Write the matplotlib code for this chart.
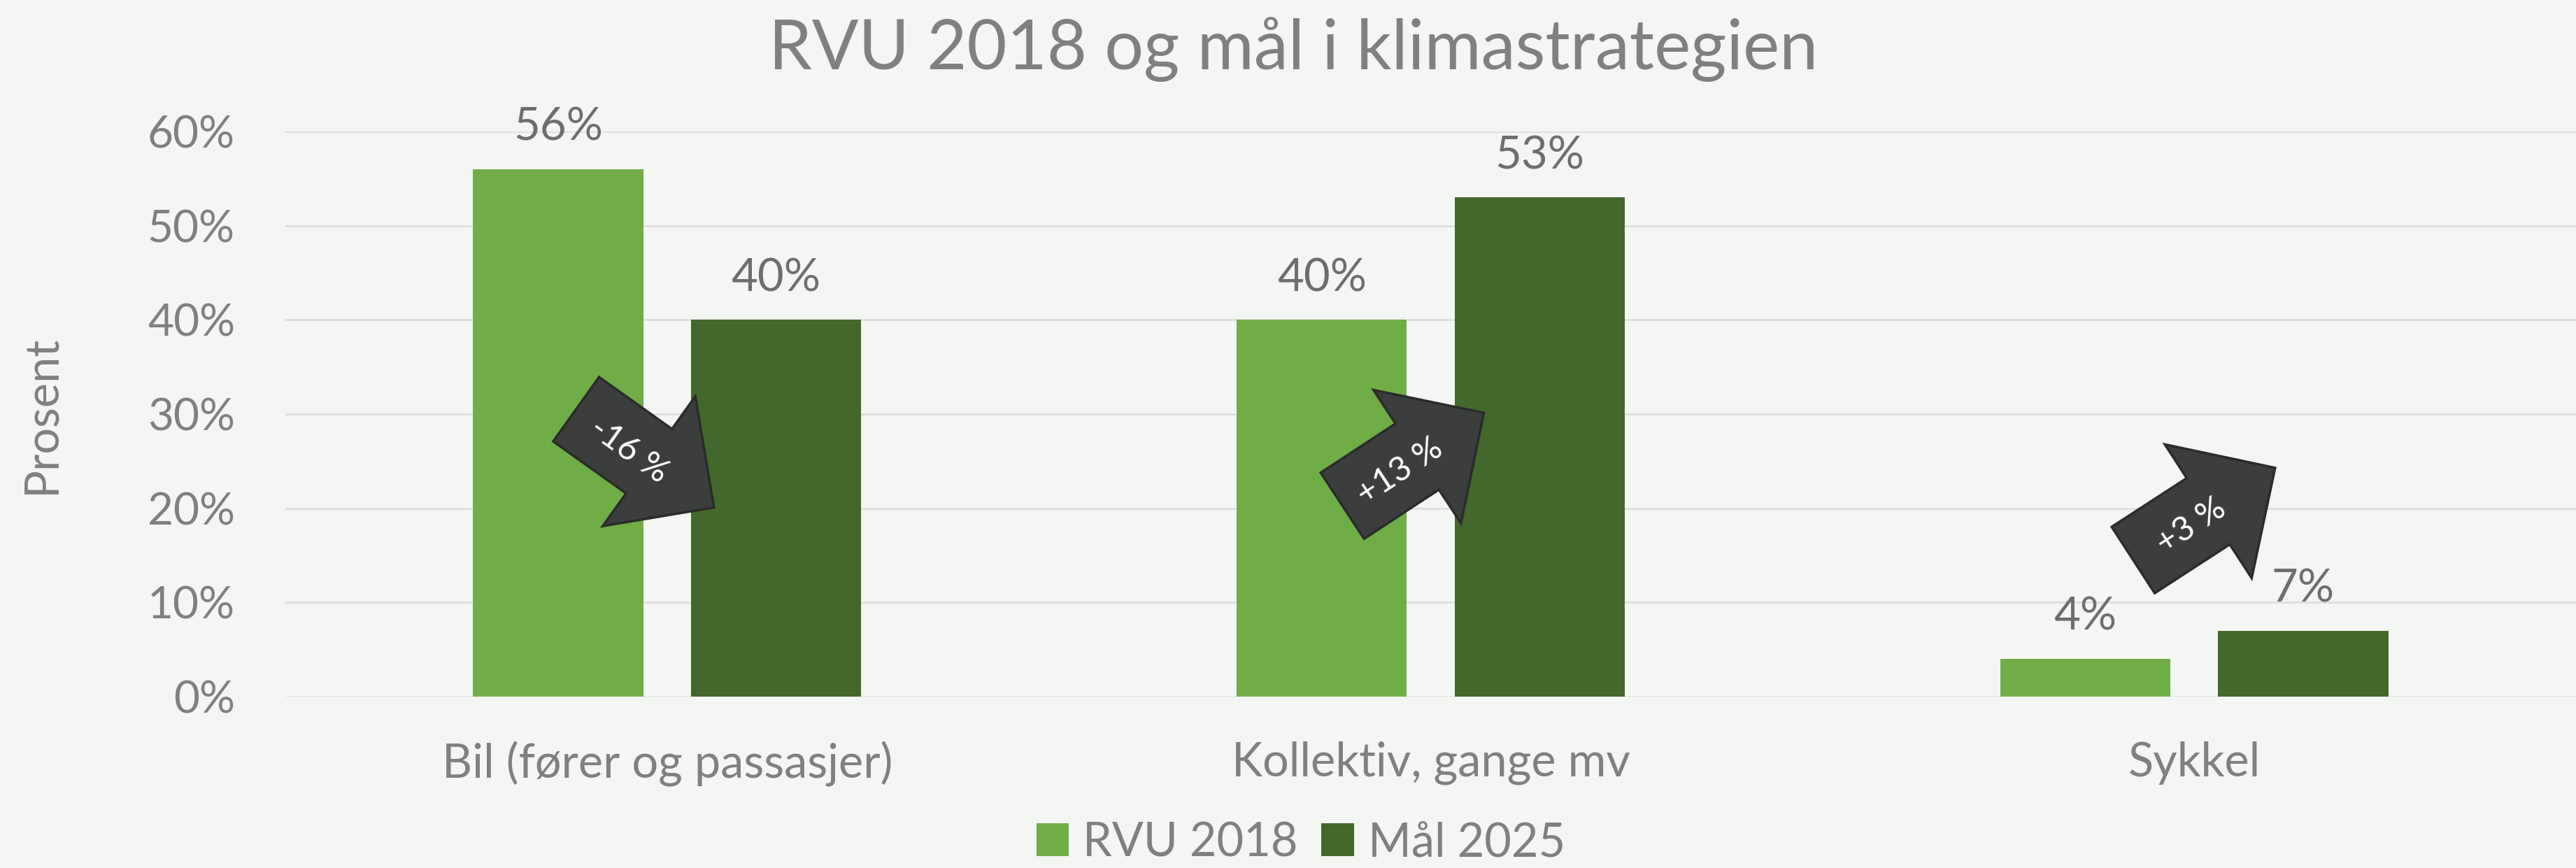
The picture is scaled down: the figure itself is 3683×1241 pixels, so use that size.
import matplotlib
matplotlib.use("Agg")
import matplotlib.pyplot as plt
import matplotlib.transforms as mtransforms
from matplotlib.patches import Polygon
import numpy as np

categories = ["Bil (fører og passasjer)", "Kollektiv, gange mv", "Sykkel"]
rvu_2018 = [56, 40, 4]
maal_2025 = [40, 53, 7]
change_labels = ["-16 %", "+13 %", "+3 %"]
y_ticks = [0, 10, 20, 30, 40, 50, 60]

BG = "#F4F6F3"
LIGHT = "#70AD47"
DARK = "#43682B"
TEXT = "#808080"
LABEL = "#6E6E6E"
ARROW_FILL = "#3C3E3D"
ARROW_EDGE = "#2A2B2A"

plt.rcParams["font.family"] = ["Lato", "DejaVu Sans"]

fig = plt.figure(figsize=(36.83, 12.41), dpi=100, facecolor=BG)
ax = fig.add_axes([0.1108, 0.1974, 0.8892, 0.6511])
ax.set_facecolor(BG)

x = np.arange(len(categories))
width = 0.223
offset = 0.1427
bars_a = ax.bar(x - offset, rvu_2018, width, color=LIGHT, label="RVU 2018", zorder=2)
bars_b = ax.bar(x + offset, maal_2025, width, color=DARK, label="Mål 2025", zorder=2)

for bars, vals in ((bars_a, rvu_2018), (bars_b, maal_2025)):
    for bar, v in zip(bars, vals):
        ax.annotate(f"{v}%", (bar.get_x() + bar.get_width() / 2, v),
                    xytext=(0, 43), textcoords="offset points",
                    ha="center", va="center", fontsize=47, color=LABEL)

ax.set_xlim(-0.5, 2.5)
ax.set_ylim(0, 60)
ax.set_yticks(y_ticks)
ax.set_yticklabels([f"{t}%" for t in y_ticks])
ax.set_xticks(x)
ax.set_xticklabels(categories)
ax.tick_params(axis="y", length=0, pad=52, labelsize=46, labelcolor=TEXT)
ax.tick_params(axis="x", length=0, pad=46, labelsize=48, labelcolor=TEXT)
ax.grid(axis="y", color="#DDDFDC", linewidth=2, zorder=0)
ax.set_axisbelow(True)
for s in ax.spines.values():
    s.set_visible(False)

fig.text(0.502, 0.943, "RVU 2018 og mål i klimastrategien", ha="center", va="center",
         fontsize=71, color=TEXT)
fig.text(0.016, 0.523, "Prosent", rotation=90, ha="center", va="center",
         fontsize=48, color=TEXT)

fig.legend(handles=[bars_a, bars_b], loc="center", bbox_to_anchor=(0.505, 0.029),
           ncol=2, frameon=False, fontsize=48, labelcolor=TEXT,
           handlelength=0.7, handleheight=0.7, handletextpad=0.3, columnspacing=0.5)

# block arrows showing the change, placed at (group offset, height in %), angle in degrees
arrow_places = [(-0.029, 25.3, -35.5), (-0.023, 25.2, 33.3), (0.013, 19.4, 33.0)]
L, head, shaft_w, head_w = 242, 114, 113, 228
shape = np.array([
    [-L / 2, -shaft_w / 2], [L / 2 - head, -shaft_w / 2], [L / 2 - head, -head_w / 2],
    [L / 2, 0], [L / 2 - head, head_w / 2], [L / 2 - head, shaft_w / 2], [-L / 2, shaft_w / 2],
])
for i, (dx, yv, ang) in enumerate(arrow_places):
    cx, cy = ax.transData.transform((x[i] + dx, yv))
    tr = mtransforms.Affine2D().rotate_deg(ang).translate(cx, cy)
    verts = tr.transform(shape)
    ax.add_patch(Polygon(verts, closed=True, facecolor=ARROW_FILL, edgecolor=ARROW_EDGE,
                         linewidth=2.5, transform=mtransforms.IdentityTransform(), zorder=5))
    tx, ty = tr.transform((-25, -4))
    fig.text(tx / fig.dpi / fig.get_figwidth(), ty / fig.dpi / fig.get_figheight(),
             change_labels[i], rotation=ang, rotation_mode="anchor", ha="center", va="center",
             fontsize=35, color="white", zorder=6)

fig.savefig("out.png", dpi=100, facecolor=BG)
